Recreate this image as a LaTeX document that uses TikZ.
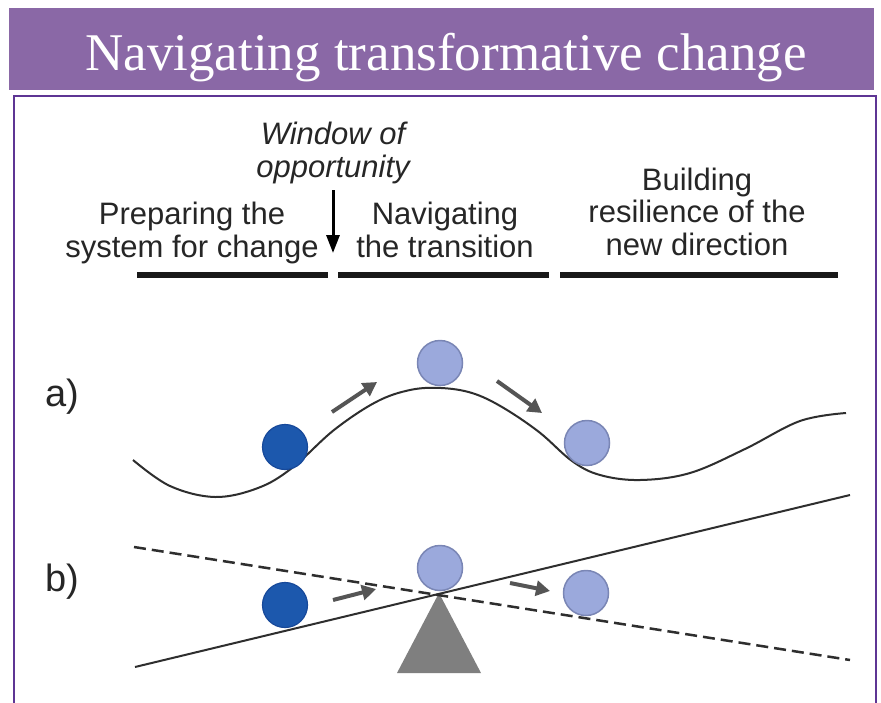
\documentclass[tikz,border=0pt]{standalone}
\usepackage{fontspec}
\setmainfont{Liberation Sans}
\newfontfamily\titlefont{Liberation Serif}
\usetikzlibrary{arrows.meta}
\definecolor{barpurple}{HTML}{8A68A6}
\definecolor{framepurple}{HTML}{5E3594}
\definecolor{darkball}{HTML}{1C58AD}
\definecolor{darkballedge}{HTML}{17499A}
\definecolor{lightball}{HTML}{9BA9DC}
\definecolor{lightballedge}{HTML}{7A86B5}
\definecolor{arrowgray}{HTML}{555555}
\definecolor{linegray}{HTML}{2E2E2E}
\definecolor{fulcrumgray}{HTML}{7F7F7F}
\definecolor{textgray}{HTML}{262626}
\begin{document}
\begin{tikzpicture}[x=1pt,y=-1pt,
  hdr/.style={font=\fontsize{31}{32.5}\selectfont, align=center, text=textgray, inner sep=0pt, anchor=base},
  lbl/.style={font=\fontsize{38}{40}\selectfont, text=textgray, inner sep=0pt, anchor=base west},
  phasebar/.style={fill=black!90},
  darkb/.style={circle, fill=darkball, draw=darkballedge, line width=1.2pt, minimum size=45pt, inner sep=0pt},
  lightb/.style={circle, fill=lightball, draw=lightballedge, line width=1.5pt, minimum size=45pt, inner sep=0pt},
  move/.style={arrowgray, line width=4pt, -{Triangle[length=14pt,width=15pt]}},
  ground/.style={linegray, line width=2pt},
]
\useasboundingbox (0,0) rectangle (881,702);
\fill[white] (0,0) rectangle (881,702);

% title bar
\fill[barpurple] (9,8) rectangle (874,90);
\node[font=\titlefont\fontsize{53}{60}\selectfont, text=white, anchor=base, inner sep=0pt] (title) at (446,70) {Navigating transformative change};
\draw[framepurple, line width=2pt] (14,706) |- (876,96) -- (876,706);

% header (anchor = baseline of the last line)
\node[hdr, font=\fontsize{31}{32.5}\itshape] (win) at (333,177) {Window of\\opportunity};
\coordinate (wa) at (333,190);
\coordinate (wb) at (333,253);
\draw[black, line width=3pt, -{Triangle[length=18pt,width=13pt]}] (wa) -- (wb);

\node[hdr] (prep) at (192,257) {Preparing the\\system for change};
\node[hdr] (nav) at (445,257) {Navigating\\the transition};
\node[hdr] (build) at (697,255) {Building\\resilience of the\\new direction};

\fill[phasebar] (137,272) rectangle (328,278);
\fill[phasebar] (338,272) rectangle (549,278);
\fill[phasebar] (560,272) rectangle (838,278);

% panel a
\node[lbl] (la) at (45,406) {a)};
\draw[ground] plot[smooth, tension=0.6] coordinates {
  (133,460) (170,486) (215,497) (258,488) (292,468) (334,430) (376,402)
  (410,390) (441,388) (472,393) (502,407) (539,432) (572,461) (600,475)
  (640,480) (690,473) (745,449) (800,421) (846,413)};
\node[darkb] (a1) at (285,447) {};
\node[lightb] (a2) at (440,363) {};
\node[lightb] (a3) at (587,443) {};
\coordinate (a1s) at (332,412);
\coordinate (a1e) at (377,382);
\coordinate (a2s) at (497,381);
\coordinate (a2e) at (542,413);
\draw[move] (a1s) -- (a1e);
\draw[move] (a2s) -- (a2e);

% panel b
\node[lbl] (lb) at (45,591) {b)};
\coordinate (s0) at (135,667);
\coordinate (s1) at (850,495);
\coordinate (d0) at (134,547);
\coordinate (d1) at (850,660);
\coordinate (apex) at (439,593);
\coordinate (bl) at (397,673);
\coordinate (br) at (481,673);
\fill[fulcrumgray] (apex) -- (bl) -- (br) -- cycle;
\draw[linegray, line width=2.5pt, dash pattern=on 12pt off 6pt] (d0) -- (d1);
\draw[ground] (s0) -- (s1);
\node[darkb] (b1) at (285,605) {};
\node[lightb] (b2) at (440,568) {};
\node[lightb] (b3) at (586,593) {};
\coordinate (b1s) at (333,600);
\coordinate (b1e) at (376,589);
\coordinate (b2s) at (510,583);
\coordinate (b2e) at (550,591);
\draw[move] (b1s) -- (b1e);
\draw[move] (b2s) -- (b2e);
\end{tikzpicture}
\end{document}
